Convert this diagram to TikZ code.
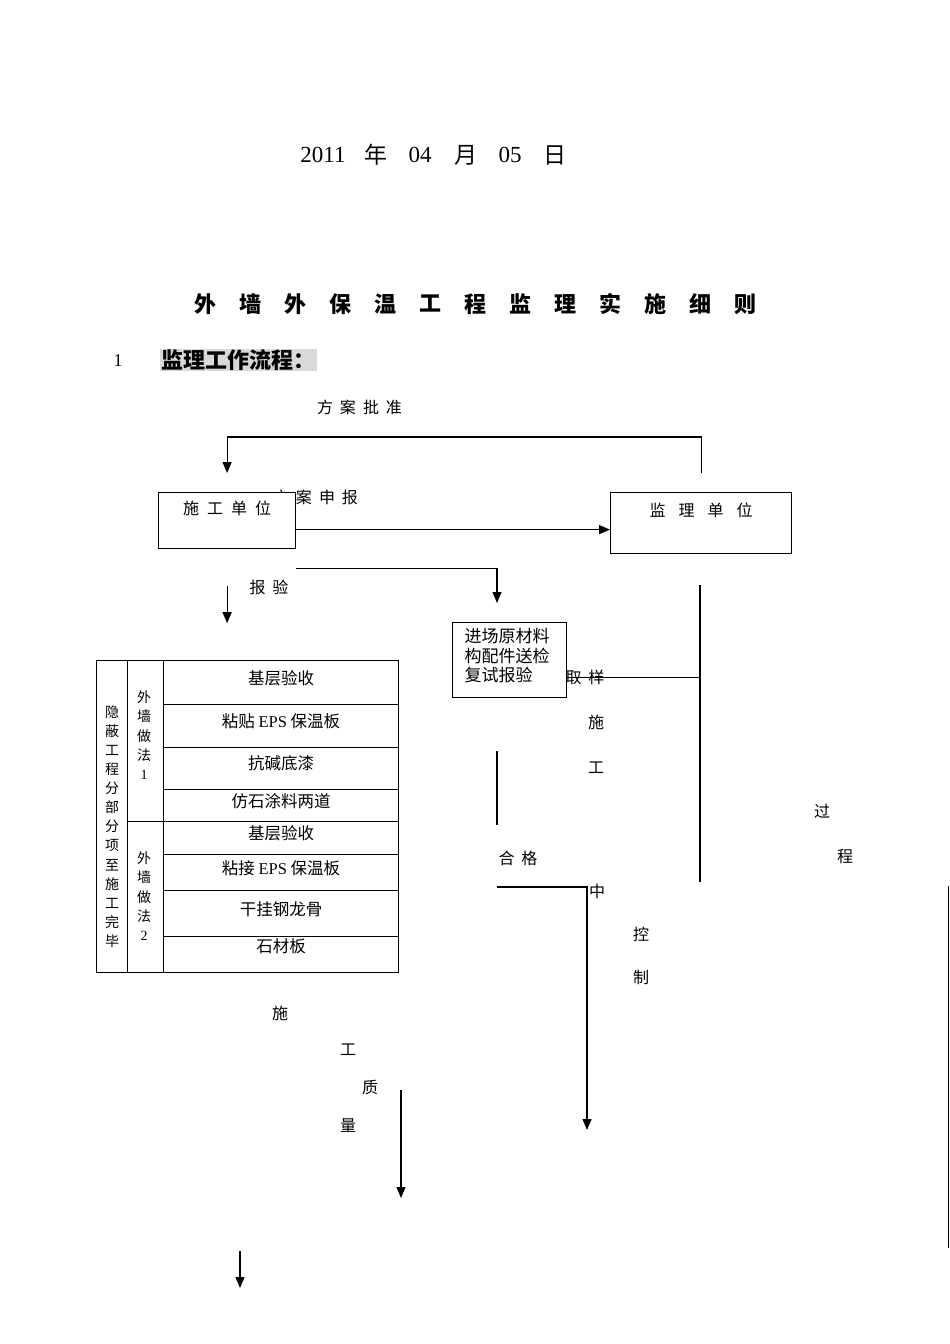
\documentclass[tikz,border=0pt]{standalone}
\usepackage{fontspec}
\setmainfont{Liberation Serif}
\newfontfamily\cjk{Noto Sans CJK SC}
\usetikzlibrary{arrows.meta}

\newcommand{\sgap}{\hspace{7pt}}

\tikzset{
  lbl/.style={font=\cjk\fontsize{16}{19.5}\selectfont, inner sep=0pt},
  cell/.style={font=\cjk\fontsize{16.5}{18}\selectfont, inner sep=0pt},
  vcol/.style={font=\cjk\fontsize{14}{14}\selectfont, inner sep=0pt},
  datum/.style={font=\cjk\fontsize{23}{23}\selectfont, inner sep=0pt},
  ttl/.style={font=\cjk\bfseries\fontsize{22}{22}\selectfont, inner sep=0pt},
  sec/.style={font=\cjk\bfseries\fontsize{22}{22}\selectfont, fill=black!15, inner xsep=1.5pt, inner ysep=1pt},
  unit/.style={draw, fill=white, inner sep=0pt, anchor=north west},
  tbl/.style={line width=0.8pt},
}

\begin{document}
\begin{tikzpicture}[x=1pt, y=-1pt, line width=1.2pt, >={Triangle[length=11pt,width=9pt]}]
    \useasboundingbox (0,0) rectangle (950,1344);

    % date and title
    \foreach \x/\t [count=\i] in {323/{\rmfamily 2011}, 376/年, 420/{\rmfamily 04}, 466/月, 510/{\rmfamily 05}, 555/日}
        \node[datum] (d\i) at (\x,155) {\t};
    \foreach \c [count=\i from 0] in {外,墙,外,保,温,工,程,监,理,实,施,细,则}
        \node[ttl] (t\i) at (205+45.08*\i,304) {\c};
    \node[font=\fontsize{18}{18}\selectfont, inner sep=0pt] (num) at (118,361) {1};
    \node[sec] (sec) at (238,360) {监理工作流程：};

    % units
    \node[lbl] (sb) at (315.5,497) {方\sgap 案\sgap 申\sgap 报};
    \node[unit, minimum width=137pt, minimum height=56pt] (sg) at (158,492) {};
    \node[lbl] (sgt) at ([yshift=-16pt]sg.north) {施\hspace{8pt}工\hspace{8pt}单\hspace{8pt}位};
    \node[unit, minimum width=181pt, minimum height=61pt] (jl) at (610,492) {};
    \node[lbl] (jlt) at ([yshift=-18pt]jl.north) {监\hspace{13pt}理\hspace{13pt}单\hspace{13pt}位};
    \node[unit, minimum width=114pt, minimum height=75pt] (yc) at (452,622) {};
    \node[lbl, font=\cjk\fontsize{17}{19.5}\selectfont, align=left, anchor=north west] (yct)
        at ([xshift=12pt,yshift=-6pt]yc.north west) {进场原材料\\构配件送检\\复试报验};

    \node[lbl] (pz) at (359.5,407) {方\sgap 案\sgap 批\sgap 准};
    \node[lbl] (by) at (269,587) {报\sgap 验};
    \node[lbl] (qy) at (585,677) {取\sgap 样};
    \node[lbl] (hg) at (518,858) {合\sgap 格};
    \foreach \x/\y/\c [count=\i] in {596/722/施, 596/768/工, 822/811/过, 845/857/程, 597/891/中, 641/934/控, 641/977/制,
                                   280/1013/施, 348/1050/工, 370/1087/质, 348/1125/量}
        \node[lbl] (s\i) at (\x,\y) {\c};

    % connectors
    \draw[->] ([yshift=19pt]jl.north) -- ++(0,-36) -| ([yshift=19pt]sg.north);
    \draw[->] ([yshift=-9pt]sg.east) -- ([yshift=-9pt]sg.east -| jl.west);
    \coordinate (ycin) at (497,603);
    \draw[->] ([yshift=-19pt]sg.south east) -| (ycin);
    \draw[->] ([yshift=-37pt]sg.south) -- ([yshift=-74pt]sg.south);
    \coordinate (jlb) at (700,585);
    \coordinate (jle) at (700,882);
    \draw (jlb) -- (jle);
    \draw ([yshift=-17.5pt]yc.east) -- ([yshift=-17.5pt]yc.east -| jlb);
    \coordinate (hg1) at (497,751);
    \coordinate (hg2) at (497,825);
    \draw (hg1) -- (hg2);
    \coordinate (hg3) at (497,887);
    \coordinate (zk) at (587,1130);
    \draw[->] (hg3) -| (zk);
    \coordinate (zl1) at (401,1090);
    \coordinate (zl2) at (401,1198);
    \draw[->] (zl1) -- (zl2);
    \coordinate (end1) at (240,1251);
    \coordinate (end2) at (240,1288);
    \draw[->] (end1) -- (end2);
    \coordinate (rt1) at (948.5,886);
    \coordinate (rt2) at (948.5,1248);
    \draw (rt1) -- (rt2);

    % table of hidden works
    \draw[tbl] (96,660) rectangle (398,972);
    \draw[tbl] (127,660) -- (127,972);
    \draw[tbl] (163,660) -- (163,972);
    \foreach \y in {704,747,789,854,890,936}
        \draw[tbl] (163,\y) -- (398,\y);
    \draw[tbl] (127,821) -- (398,821);
    \foreach \y/\t [count=\i] in {678/基层验收, 721/粘贴 {\rmfamily EPS} 保温板, 763/抗碱底漆, 801/仿石涂料两道,
                                 833/基层验收, 868/粘接 {\rmfamily EPS} 保温板, 909/干挂钢龙骨, 946/石材板}
        \node[cell] (c\i) at (281,\y) {\t};
    \foreach \c [count=\i from 0] in {隐,蔽,工,程,分,部,分,项,至,施,工,完,毕}
        \node[vcol] (v\i) at (112,712+19.1*\i) {\c};
    \foreach \c [count=\i from 0] in {外,墙,做,法,{\rmfamily 1}}
        \node[vcol] (pa\i) at (144,697+19.5*\i) {\c};
    \foreach \c [count=\i from 0] in {外,墙,做,法,{\rmfamily 2}}
        \node[vcol] (pb\i) at (144,858+19.5*\i) {\c};
\end{tikzpicture}
\end{document}
